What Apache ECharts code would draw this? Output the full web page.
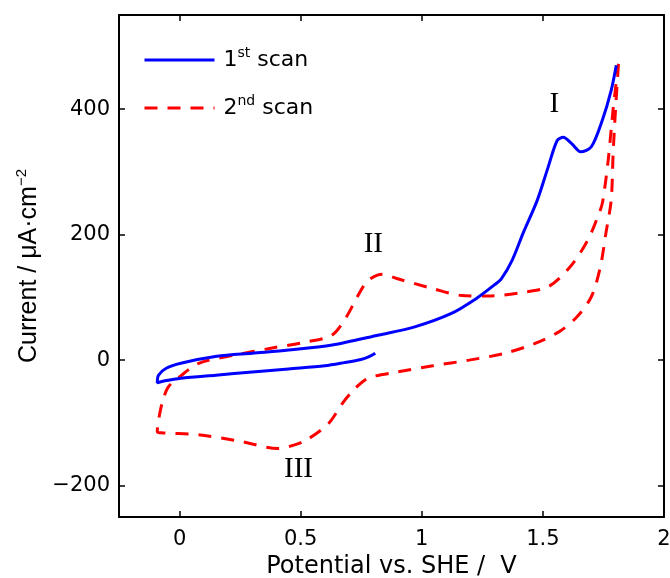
<!DOCTYPE html>
<html>
<head>
<meta charset="utf-8">
<script src="https://cdn.jsdelivr.net/npm/echarts@6/dist/echarts.min.js"></script>
<style>
  html, body { margin: 0; padding: 0; background: #fff; }
  #chart { width: 670px; height: 578px; }
</style>
</head>
<body>
<div id="chart"></div>
<script>
// axis ticks
const xTicks = [0, 0.5, 1, 1.5, 2]
const yTicks = [-200, 0, 200, 400]

// 1st scan: potential (V), current (uA/cm2)
const scan1 = [
  [0.808, 11], [0.78, 5], [0.749, 1], [0.68, -4], [0.60, -9], [0.45, -14], [0.30, -19],
  [0.15, -24], [0.005, -29], [-0.06, -33], [-0.092, -36],
  [-0.087, -24], [-0.055, -13], [0.005, -5], [0.154, 6], [0.30, 11], [0.45, 16],
  [0.63, 24], [0.823, 40], [0.971, 53], [1.12, 74], [1.224, 98], [1.30, 120],
  [1.329, 130], [1.373, 159], [1.418, 202], [1.477, 255], [1.522, 308], [1.559, 350],
  [1.584, 355], [1.619, 345], [1.656, 332], [1.70, 340], [1.745, 382], [1.782, 430],
  [1.803, 470]
]

// 2nd scan
const scan2 = [
  [1.812, 472], [1.80, 400], [1.79, 330], [1.782, 255], [1.76, 202], [1.737, 148],
  [1.70, 101], [1.641, 69], [1.566, 45], [1.463, 26], [1.344, 11], [1.195, 0],
  [1.046, -9], [0.897, -19], [0.80, -26], [0.764, -32], [0.72, -47], [0.674, -68],
  [0.615, -101], [0.525, -127], [0.451, -138], [0.407, -141], [0.258, -130],
  [0.079, -119], [-0.069, -116], [-0.092, -114], [-0.087, -96], [-0.069, -64],
  [-0.047, -43], [-0.01, -30], [0.079, -5], [0.228, 8], [0.377, 19], [0.525, 29],
  [0.63, 40], [0.689, 69], [0.734, 101], [0.778, 127], [0.838, 137], [0.897, 130],
  [1.046, 114], [1.165, 103], [1.269, 102], [1.418, 108], [1.522, 117], [1.611, 148],
  [1.685, 191], [1.737, 239], [1.748, 255], [1.77, 320], [1.79, 400], [1.812, 472]
]

// peak labels
const peakNames = ['I', 'II', 'III']
const peakPos = [[1.547, 407], [0.80, 184], [0.491, -174]]

const font = 'DejaVu Sans'
const minus = v => String(v).replace('-', '\u2212')

const chart = echarts.init(document.getElementById('chart'))

const tickStyle = { show: true, inside: true, length: 6, lineStyle: { color: '#000', width: 1.5 } }
const lineStyle = { show: true, onZero: false, lineStyle: { color: '#000', width: 2 } }

chart.setOption({
  animation: false,
  grid: { left: 119, right: 6, top: 15, bottom: 61, outerBoundsMode: 'none' },
  legend: {
    orient: 'vertical',
    left: 138,
    top: 41,
    itemWidth: 70,
    itemHeight: 14,
    itemGap: 23,
    data: ['1st scan', '2nd scan'],
    itemStyle: { opacity: 0 },
    lineStyle: { width: 3 },
    formatter: function (name) {
      return name === '1st scan' ? '{f|1}{s|st}{n| scan}' : '{f|2}{s|nd}{n| scan}'
    },
    textStyle: {
      rich: {
        f: { fontFamily: font, fontSize: 22, color: '#000', lineHeight: 28, padding: [0, 0, 0, 4] },
        n: { fontFamily: font, fontSize: 22, color: '#000', lineHeight: 28 },
        s: { fontFamily: font, fontSize: 14, color: '#000', verticalAlign: 'top', lineHeight: 14 }
      }
    }
  },
  xAxis: [
    {
      type: 'value',
      min: -0.25,
      max: 2,
      axisLine: lineStyle,
      axisTick: Object.assign({ customValues: xTicks }, tickStyle),
      splitLine: { show: false },
      axisLabel: { customValues: xTicks, fontFamily: font, fontSize: 21, color: '#000', margin: 12 },
      name: 'Potential vs. SHE /  V',
      nameLocation: 'middle',
      nameGap: 33,
      nameTextStyle: { fontFamily: font, fontSize: 24, color: '#000' }
    },
    {
      type: 'value',
      position: 'top',
      min: -0.25,
      max: 2,
      axisLine: lineStyle,
      axisTick: Object.assign({ customValues: xTicks }, tickStyle),
      splitLine: { show: false },
      axisLabel: { show: false }
    }
  ],
  yAxis: [
    {
      type: 'value',
      min: -250,
      max: 550,
      axisLine: lineStyle,
      axisTick: Object.assign({ customValues: yTicks }, tickStyle),
      splitLine: { show: false },
      axisLabel: { customValues: yTicks, formatter: minus, fontFamily: font, fontSize: 21, color: '#000', margin: 9 },
      name: '{a|Current / \u03bcA\u00b7cm}{b|\u22122}',
      nameLocation: 'middle',
      nameGap: 75,
      nameTextStyle: {
        rich: {
          a: { fontFamily: 'Liberation Sans', fontSize: 25, color: '#000', lineHeight: 30 },
          b: { fontFamily: 'Liberation Sans', fontSize: 15, color: '#000', verticalAlign: 'top', lineHeight: 15 }
        }
      }
    },
    {
      type: 'value',
      position: 'right',
      min: -250,
      max: 550,
      axisLine: lineStyle,
      axisTick: Object.assign({ customValues: yTicks }, tickStyle),
      splitLine: { show: false },
      axisLabel: { show: false }
    }
  ],
  series: [
    {
      name: '1st scan',
      type: 'line',
      data: scan1,
      symbol: 'none',
      smooth: 0.3,
      lineStyle: { color: '#0000ff', width: 3 },
      itemStyle: { color: '#0000ff' },
      z: 3
    },
    {
      name: '2nd scan',
      type: 'line',
      data: scan2,
      symbol: 'none',
      smooth: 0.3,
      lineStyle: { color: '#ff0000', width: 3, type: [13, 10] },
      itemStyle: { color: '#ff0000' },
      z: 2,
      markPoint: {
        symbol: 'circle',
        symbolSize: 1,
        itemStyle: { color: 'rgba(0,0,0,0)' },
        label: {
          show: true,
          position: 'inside',
          formatter: '{b}',
          fontFamily: 'Liberation Serif',
          fontSize: 29,
          color: '#000'
        },
        data: peakNames.map((n, i) => ({ name: n, coord: peakPos[i] }))
      }
    }
  ]
})
</script>
</body>
</html>
